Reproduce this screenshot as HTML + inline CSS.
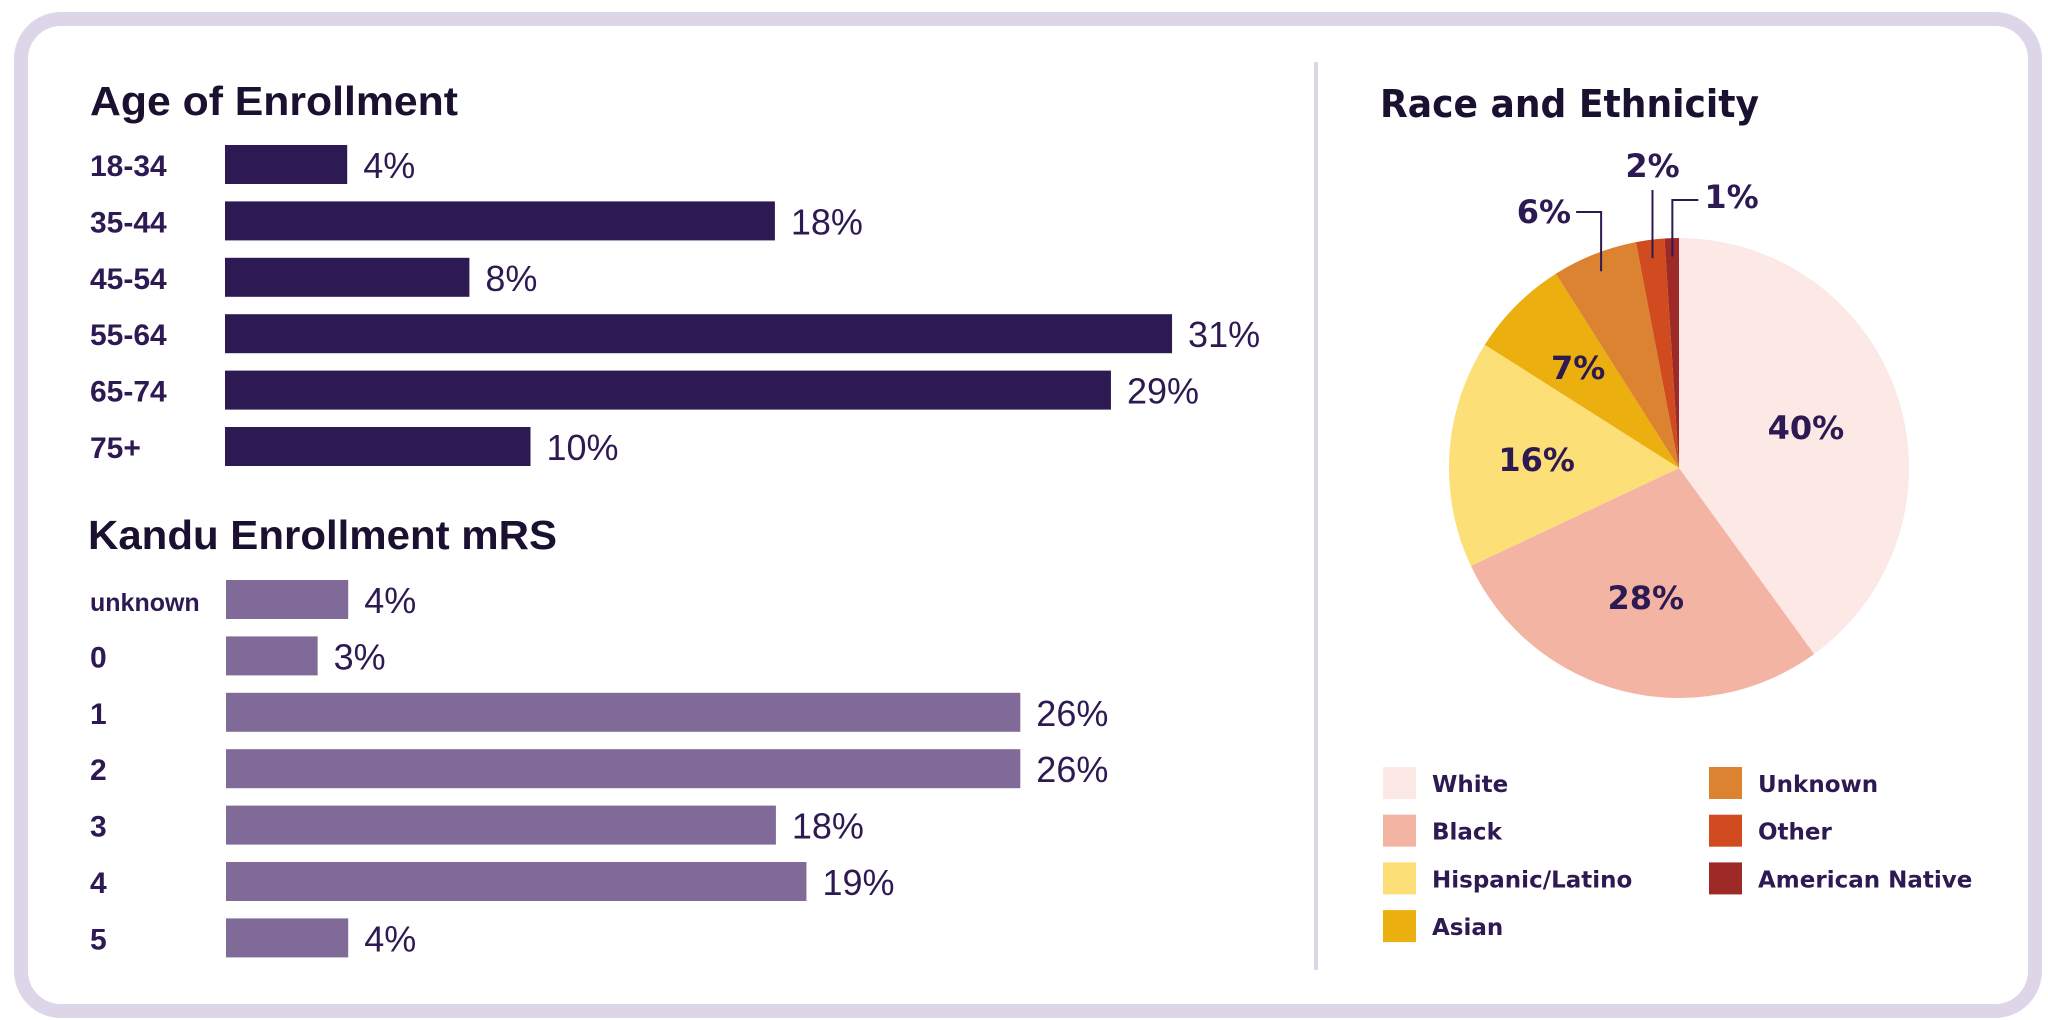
<!DOCTYPE html>
<html><head><meta charset="utf-8"><style>
html,body{margin:0;padding:0;background:#fff;}
svg{display:block;}
text{font-family:"Liberation Sans",sans-serif;}
.pie text{font-family:"DejaVu Sans","Liberation Sans",sans-serif;font-weight:bold;}
</style></head><body>
<svg id="chart" width="2048" height="1020" viewBox="0 0 2048 1020" xmlns="http://www.w3.org/2000/svg">
<rect x="21" y="19" width="2014" height="992" rx="40" ry="40" fill="#fff" stroke="#dcd6e8" stroke-width="14"/>
<line x1="1316" y1="62" x2="1316" y2="970" stroke="#dcd6e8" stroke-width="4"/>
<text x="90" y="115" font-size="41" font-weight="bold" fill="#1a1030" textLength="368" lengthAdjust="spacingAndGlyphs">Age of Enrollment</text>
<text x="88" y="549" font-size="41" font-weight="bold" fill="#1a1030" textLength="469" lengthAdjust="spacingAndGlyphs">Kandu Enrollment mRS</text>
<g id="age"></g>
<g id="mrs"></g>
<g class="pie">
<text x="1380" y="117" font-size="38" fill="#1a1030" textLength="379" lengthAdjust="spacingAndGlyphs">Race and Ethnicity</text>
<g id="pie"></g>
<g id="legend"></g>
</g>
</svg>
<script>
const ageCats = ["18-34","35-44","45-54","55-64","65-74","75+"];
const ageVals = [4,18,8,31,29,10];
const mrsCats = ["unknown","0","1","2","3","4","5"];
const mrsVals = [4,3,26,26,18,19,4];
const raceCats = ["White","Black","Hispanic/Latino","Asian","Unknown","Other","American Native"];
const raceVals = [40,28,16,7,6,2,1];

const NS="http://www.w3.org/2000/svg";
function mk(tag,attrs,parent){const e=document.createElementNS(NS,tag);for(const k in attrs)e.setAttribute(k,attrs[k]);parent.appendChild(e);return e;}

function bars(gid,cats,vals,x0,y0,pitch,color,prefix){
  const g=document.getElementById(gid);
  const xs=v=>v*30.55;
  cats.forEach((c,i)=>{
    const y=y0+i*pitch;
    const lab=mk('text',{x:90,y:y+31,'font-size':c.length>5?25:30,'font-weight':'bold',fill:'#2e1a52'},g);
    
    
    lab.textContent=c;
    const r=mk('rect',{x:x0,y:y,width:xs(vals[i]),height:39,fill:color},g);
    
    
    const t=mk('text',{x:x0+xs(vals[i])+16,y:y+33,'font-size':36,fill:'#2e1a52'},g);
    
    
    t.textContent=vals[i]+'%';
  });
}
bars('age',ageCats,ageVals,225,145,56.4,'#2e1a52','age');
bars('mrs',mrsCats,mrsVals,226,580,56.4,'#7f6a98','mrs');

const colors=["#fce9e6","#f4b4a4","#fddf78","#ebb00f","#dc8332","#d14b20","#9e2a27"];
const cx=1679,cy=468,R=230;
const pg=document.getElementById('pie');
const tot=raceVals.reduce((a,b)=>a+b,0);
let acc=0;
const pt=(a,r)=>[cx+r*Math.sin(a),cy-r*Math.cos(a)];
raceVals.forEach((v,i)=>{
  const a0=acc/tot*2*Math.PI; acc+=v; const a1=acc/tot*2*Math.PI;
  const p0=pt(a0,R),p1=pt(a1,R);
  const s=mk('path',{d:`M${cx},${cy}L${p0[0]},${p0[1]}A${R},${R} 0 ${a1-a0>Math.PI?1:0} 1 ${p1[0]},${p1[1]}Z`,fill:colors[i]},pg);
  
  
  const am=(a0+a1)/2;
  if(v>=7){
    const rr=v>=20?0.58:0.62;
    const lp=pt(am,R*rr);
    const t=mk('text',{x:lp[0],y:lp[1]+12,'font-size':32,fill:'#2e1a52','text-anchor':'middle'},pg);
    
    
    t.textContent=v+'%';
  } else {
    const e=pt(am,R*0.92);
    let d,tx,ty,anc;
    if(i===4){d=`M${e[0]},${e[1]}L${e[0]},212L${e[0]-25},212`;tx=e[0]-30;ty=223;anc='end';}
    else if(i===5){d=`M${e[0]},${e[1]}L${e[0]},190`;tx=e[0];ty=177;anc='middle';}
    else {d=`M${e[0]},${e[1]}L${e[0]},200L${e[0]+26},200`;tx=e[0]+32;ty=208;anc='start';}
    const l=mk('path',{d:d,fill:'none',stroke:'#2e1a52','stroke-width':2},pg);
    
    
    const t=mk('text',{x:tx,y:ty,'font-size':32,fill:'#2e1a52','text-anchor':anc},pg);
    
    
    t.textContent=v+'%';
  }
});

const lg=document.getElementById('legend');
raceCats.forEach((c,i)=>{
  const col=i<4?0:1,row=i<4?i:i-4;
  const x=col?1709:1383,y=767+row*47.7;
  const r=mk('rect',{x:x,y:y,width:33,height:32,fill:colors[i]},lg);
  
  
  const t=mk('text',{x:x+49,y:y+25,'font-size':23,fill:'#2e1a52'},lg);
  
  
  t.textContent=c;
});
</script>
</body></html>
